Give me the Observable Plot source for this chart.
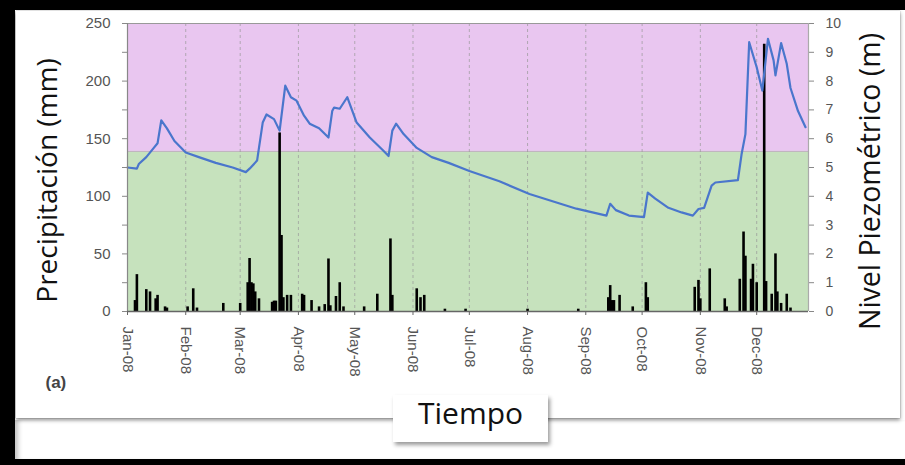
<!DOCTYPE html>
<html>
<head>
<meta charset="utf-8">
<script src="https://cdn.jsdelivr.net/npm/d3@7"></script>
<script src="https://cdn.jsdelivr.net/npm/@observablehq/plot@0.6"></script>
<style>
  html, body { margin: 0; padding: 0; background: #fff; overflow: hidden; }
  #wrap { position: relative; width: 905px; height: 465px; background: #fff; overflow: hidden; }
  .blk { position: absolute; background: #000; }
  #panel { position: absolute; left: 16px; top: 11px; width: 884px; height: 407px; background: #fff;
           box-shadow: 0 2px 4px rgba(0,0,0,0.45), 0 0 1px rgba(0,0,0,0.4); }
  #lower { position: absolute; left: 15px; top: 420px; width: 890px; height: 39px; background: #fff;
           box-shadow: inset 6px 0 5px -3px rgba(0,0,0,0.25); }
  #tbox { position: absolute; left: 393px; top: 395px; width: 155px; height: 47px; background: #fff;
          box-shadow: 2px 3px 4px rgba(0,0,0,0.4); font-family: "Open Sans", sans-serif; font-size: 30px;
          color: #111; text-align: center; line-height: 36px; }
  #chart { position: absolute; left: 0; top: 0; }
</style>
</head>
<body>
<div id="wrap">
  <div id="lower"></div>
  <div id="panel"></div>
  <div class="blk" style="left:0;top:0;width:905px;height:10px"></div>
  <div class="blk" style="left:0;top:0;width:15px;height:465px"></div>
  <div class="blk" style="left:0;top:459px;width:905px;height:6px"></div>
  <div id="tbox">Tiempo</div>
  <div id="chart"></div>
</div>
<script>
// ---- data ----
const rainDates = ["2008-01-05","2008-01-06","2008-01-11","2008-01-13","2008-01-16","2008-01-17","2008-01-21","2008-01-22",
  "2008-02-02","2008-02-05","2008-02-07","2008-02-21","2008-03-01","2008-03-05","2008-03-06","2008-03-07","2008-03-08",
  "2008-03-09","2008-03-11","2008-03-18","2008-03-19","2008-03-20","2008-03-22","2008-03-23","2008-03-24","2008-03-26",
  "2008-03-28","2008-04-03","2008-04-04","2008-04-08","2008-04-12","2008-04-15","2008-04-17","2008-04-18","2008-04-21",
  "2008-04-23","2008-04-25","2008-05-06","2008-05-13","2008-05-20","2008-05-21","2008-06-03","2008-06-05","2008-06-07",
  "2008-06-18","2008-06-29","2008-08-01","2008-08-28","2008-09-13","2008-09-14","2008-09-15","2008-09-16","2008-09-19",
  "2008-09-26","2008-10-03","2008-10-04","2008-10-29","2008-10-31","2008-11-01","2008-11-06","2008-11-14","2008-11-15",
  "2008-11-22","2008-11-24","2008-11-25","2008-11-28","2008-11-29","2008-12-01","2008-12-05","2008-12-06","2008-12-09",
  "2008-12-11","2008-12-12","2008-12-14","2008-12-17","2008-12-19"];
const rainMm = [9.5,32,19,17,11,14,4,3,
  4,19.7,3,7,7,25,46,25,24,
  17,11,8,9,9,155,66,12,14,
  14,15,14,9.5,4,6,45.6,5,13,
  25,4,4,15,63,14,19.7,12,14,
  2,2,2,2,12,22.5,9.5,9.5,14,
  4,25,12,21,27,11,37,11,4,
  28,69,48,28,41,25,232,26,15,
  50,17,7,15,3];

const levelDates = ["2008-01-01","2008-01-06","2008-01-07","2008-01-11","2008-01-15","2008-01-17","2008-01-19","2008-01-22",
  "2008-01-26","2008-02-01","2008-02-08","2008-02-17","2008-02-26","2008-03-04","2008-03-06","2008-03-10","2008-03-11",
  "2008-03-13","2008-03-15","2008-03-19","2008-03-22","2008-03-25","2008-03-28","2008-03-31","2008-04-04","2008-04-07",
  "2008-04-12","2008-04-17","2008-04-19","2008-04-20","2008-04-23","2008-04-27","2008-05-02","2008-05-09","2008-05-16",
  "2008-05-19","2008-05-21","2008-05-23","2008-05-27","2008-06-03","2008-06-11","2008-06-20","2008-07-01","2008-07-17",
  "2008-08-02","2008-08-27","2008-09-12","2008-09-14","2008-09-17","2008-09-24","2008-10-02","2008-10-04","2008-10-08",
  "2008-10-15","2008-10-22","2008-10-28","2008-10-31","2008-11-03","2008-11-07","2008-11-09","2008-11-21","2008-11-23",
  "2008-11-25","2008-11-27","2008-12-01","2008-12-04","2008-12-07","2008-12-10","2008-12-11","2008-12-14","2008-12-17",
  "2008-12-19","2008-12-23","2008-12-27"];
const levelM = [5.0,4.96,5.12,5.36,5.68,5.84,6.64,6.36,
  5.92,5.52,5.36,5.16,5.0,4.84,4.96,5.24,5.68,
  6.56,6.84,6.68,6.28,7.84,7.44,7.32,6.8,6.52,
  6.36,6.04,6.96,7.08,7.04,7.44,6.56,6.04,5.6,
  5.4,6.28,6.52,6.16,5.68,5.36,5.16,4.88,4.52,
  4.08,3.57,3.33,3.74,3.52,3.33,3.28,4.13,3.92,
  3.6,3.44,3.33,3.56,3.6,4.37,4.48,4.56,5.48,
  6.16,9.35,8.48,7.67,9.47,8.72,8.2,9.32,8.6,
  7.76,6.96,6.4];

const zoneFrom = [0, 139];
const zoneTo = [139, 250];
const leftTicks = [0,25,50,75,100,125,150,175,200,225,250];
const rightTicksM = [0,1,2,3,4,5,6,7,8,9,10];
const mmPerM = 25;
const leftTitle = "Precipitación (mm)";
const rightTitle = "Nivel Piezométrico (m)";
const panelLabel = "(a)";

// ---- build ----
const parse = d3.utcParse("%Y-%m-%d");
const rain = rainDates.map((d, i) => ({date: parse(d), mm: rainMm[i]}));
const level = levelDates.map((d, i) => ({date: parse(d), m: levelM[i]}));
const start = new Date(Date.UTC(2008, 0, 1));
const end = new Date(Date.UTC(2008, 11, 28, 14));
const months = d3.utcMonths(start, new Date(Date.UTC(2008, 11, 2)));
const zones = zoneFrom.map((f, i) => ({from: f, to: zoneTo[i], k: i}));
const zoneColors = ["#c6e2bd", "#e9c6f0"];

const chart = Plot.plot({
  width: 905, height: 465,
  marginLeft: 127, marginRight: 97, marginTop: 23, marginBottom: 154,
  style: {background: "transparent", fontFamily: "Arial, 'Liberation Sans', sans-serif", fontSize: "14px", color: "#555", overflow: "visible"},
  x: {type: "utc", domain: [start, end]},
  y: {domain: [0, 250]},
  marks: [
    Plot.rect(zones, {x1: () => start, x2: () => end, y1: "from", y2: "to", fill: d => zoneColors[d.k]}),
    Plot.ruleY([139], {stroke: "#c0b0c0", strokeWidth: 1}),
    Plot.gridX(months.slice(1), {stroke: "#999", strokeOpacity: 0.7, strokeDasharray: "3,3"}),
    Plot.ruleX(rain, {x: "date", y1: 0, y2: "mm", stroke: "#000", strokeWidth: 2.6}),
    Plot.line(level, {x: "date", y: d => d.m * mmPerM, stroke: "#4a76cc", strokeWidth: 2.2, curve: "linear"}),
    Plot.ruleY([250], {stroke: "#999", strokeWidth: 1.2}),
    Plot.ruleX([end], {stroke: "#aaa", strokeWidth: 1.2}),
    Plot.ruleX([start], {stroke: "#888", strokeWidth: 1.2}),
    Plot.ruleY([0], {stroke: "#666", strokeWidth: 1.5}),
    Plot.axisX({ticks: months, tickFormat: d3.utcFormat("%b-%y"), tickRotate: 90, tickSize: 4, tickPadding: 11,
                label: null, fill: "#555", stroke: "#666", fontSize: 15}),
    Plot.axisY({anchor: "left", ticks: leftTicks, tickFormat: d => d % 50 ? "" : d, tickSize: 5, tickPadding: 12,
                label: null, fill: "#555", stroke: "#888", fontSize: 15}),
    Plot.axisY({anchor: "right", ticks: rightTicksM.map(v => v * mmPerM), tickFormat: d => d / mmPerM, tickSize: 5,
                tickPadding: 12, label: null, fill: "#555", stroke: "#888", fontSize: 14}),
    Plot.text([leftTitle], {frameAnchor: "left", textAnchor: "middle", dx: -79, dy: 13, rotate: -90, fontSize: 28, fill: "#111",
                fontFamily: "'Open Sans', sans-serif"}),
    Plot.text([rightTitle], {frameAnchor: "right", textAnchor: "middle", dx: 62, dy: 14, rotate: -90, fontSize: 28.5, fill: "#111",
                fontFamily: "'Open Sans', sans-serif"}),
    Plot.text([panelLabel], {frameAnchor: "bottom-left", textAnchor: "start", dx: -82, dy: 76, fontSize: 17, fontWeight: "bold", fill: "#444"})
  ]
});
document.getElementById("chart").appendChild(chart);
</script>
</body>
</html>
